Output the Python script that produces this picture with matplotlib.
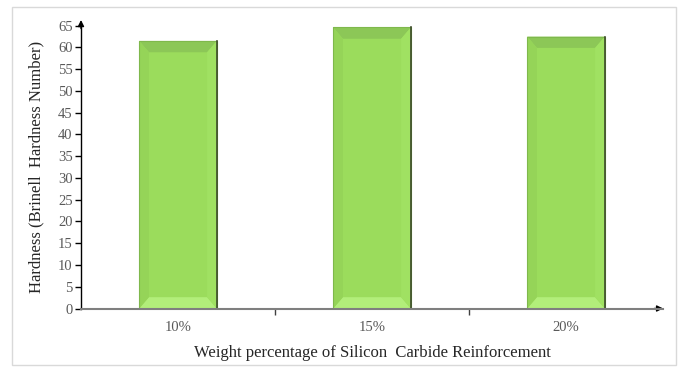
import numpy as np
import matplotlib
matplotlib.use('Agg')
import matplotlib.pyplot as plt
from matplotlib.patches import Polygon, Rectangle

categories = ['10%', '15%', '20%']
hardness = [61.5, 64.6, 62.5]

plt.rcParams['font.family'] = ['Liberation Serif', 'DejaVu Serif']

fig = plt.figure(figsize=(6.81, 3.72), dpi=100)
# light frame around the whole chart
fig.patches.append(Rectangle((12 / 681, 7 / 372), 664 / 681, 358 / 372,
                             transform=fig.transFigure, fill=False,
                             edgecolor='#d9d9d9', linewidth=1.0))
ax = fig.add_axes([81 / 681, 1 - 308.5 / 372, 582 / 681, (308.5 - 25.7) / 372])

x = np.arange(len(categories))
width = 0.4
ax.bar(x, hardness, width=width, color='#9bdc5c', linewidth=0, zorder=2)

# bevel shading on each bar
dx, dy = 0.05, 2.6
for xi, v in zip(x, hardness):
    x0, x1 = xi - width / 2, xi + width / 2
    top = [(x0, v), (x1, v), (x1 - dx, v - dy), (x0 + dx, v - dy)]
    bot = [(x0, 0), (x1, 0), (x1 - dx, dy), (x0 + dx, dy)]
    left = [(x0, 0), (x0, v), (x0 + dx, v - dy), (x0 + dx, dy)]
    right = [(x1, 0), (x1, v), (x1 - dx, v - dy), (x1 - dx, dy)]
    ax.add_patch(Polygon(top, closed=True, color='#8cc757', zorder=3, lw=0))
    ax.add_patch(Polygon(bot, closed=True, color='#b2ee7a', zorder=3, lw=0))
    ax.add_patch(Polygon(left, closed=True, color='#95d458', zorder=3, lw=0))
    ax.add_patch(Polygon(right, closed=True, color='#a0e162', zorder=3, lw=0))
    ax.add_patch(Rectangle((x0, 0), width, v, fill=False,
                           edgecolor='#7fb84c', linewidth=0.8, zorder=4))
    ax.plot([x1, x1], [0, v], color='#3d4a2c', lw=1.2, zorder=5)

ax.set_xlim(-0.5, len(categories) - 0.5)
ax.set_ylim(0, 65)
ax.set_yticks(np.arange(0, 66, 5))
ax.set_xticks(x)
ax.set_xticklabels(categories)
ax.set_xticks(np.arange(0.5, len(categories) - 0.5, 1), minor=True)

for s in ['top', 'right']:
    ax.spines[s].set_visible(False)
ax.spines['left'].set_color('black')
ax.spines['left'].set_linewidth(1.0)
ax.spines['bottom'].set_color('#7f7f7f')
ax.spines['bottom'].set_linewidth(1.5)
ax.spines['bottom'].set_zorder(6)

ax.tick_params(axis='y', direction='out', length=4, width=1, colors='black',
               labelcolor='#595959', labelsize=10.5, pad=2)
ax.tick_params(axis='x', which='major', length=0, labelcolor='#595959',
               labelsize=10.5, pad=9)
ax.tick_params(axis='x', which='minor', direction='out', length=4, width=1,
               color='#404040')

# arrow heads on the axes
ax.annotate('', xy=(0, 1.03), xytext=(0, 0.98), xycoords='axes fraction',
            arrowprops=dict(arrowstyle='-|>', color='black', lw=1.0,
                            mutation_scale=9))
ax.annotate('', xy=(1.005, 0), xytext=(0.98, 0), xycoords='axes fraction',
            arrowprops=dict(arrowstyle='-|>', color='black', lw=1.0,
                            mutation_scale=9))

ax.set_ylabel('Hardness (Brinell  Hardness Number)', fontsize=12,
              color='#262626', labelpad=10)
ax.set_xlabel('Weight percentage of Silicon  Carbide Reinforcement',
              fontsize=12, color='#262626', labelpad=8)

fig.savefig('out.png', dpi=100)
